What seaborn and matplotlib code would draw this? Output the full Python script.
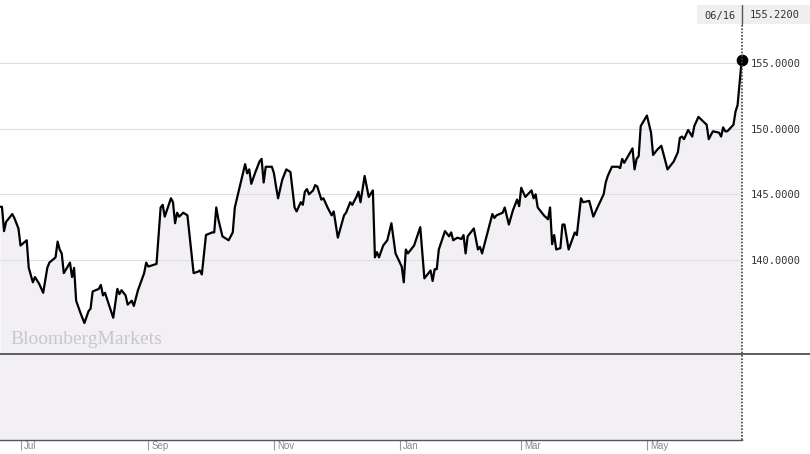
import pandas as pd
import matplotlib.pyplot as plt
import matplotlib.dates as mdates
import matplotlib.transforms as mtransforms
from matplotlib.lines import Line2D
from matplotlib.patches import Rectangle
from matplotlib.ticker import FormatStrFormatter
import seaborn as sns

# Price series (vertices of the line)
dates = [
    '2022-06-21', '2022-06-22', '2022-06-23', '2022-06-24', '2022-06-27', '2022-06-28',
    '2022-06-30', '2022-07-01', '2022-07-04', '2022-07-05', '2022-07-07', '2022-07-08',
    '2022-07-10', '2022-07-12', '2022-07-14', '2022-07-15', '2022-07-18', '2022-07-19',
    '2022-07-20', '2022-07-21', '2022-07-22', '2022-07-25', '2022-07-26', '2022-07-27',
    '2022-07-28', '2022-07-30', '2022-08-01', '2022-08-03', '2022-08-04', '2022-08-05',
    '2022-08-08', '2022-08-09', '2022-08-10', '2022-08-11', '2022-08-15', '2022-08-17',
    '2022-08-18', '2022-08-19', '2022-08-21', '2022-08-22', '2022-08-24', '2022-08-25',
    '2022-08-27', '2022-08-30', '2022-08-31', '2022-09-01', '2022-09-05', '2022-09-07',
    '2022-09-08', '2022-09-09', '2022-09-12', '2022-09-13', '2022-09-14', '2022-09-15',
    '2022-09-16', '2022-09-18', '2022-09-20', '2022-09-23', '2022-09-25', '2022-09-26',
    '2022-09-27', '2022-09-29', '2022-10-02', '2022-10-03', '2022-10-04', '2022-10-05',
    '2022-10-07', '2022-10-09', '2022-10-10', '2022-10-12', '2022-10-13', '2022-10-18',
    '2022-10-19', '2022-10-20', '2022-10-21', '2022-10-23', '2022-10-25', '2022-10-26',
    '2022-10-27', '2022-10-28', '2022-10-31', '2022-11-01', '2022-11-02', '2022-11-03',
    '2022-11-05', '2022-11-07', '2022-11-09', '2022-11-11', '2022-11-12', '2022-11-14',
    '2022-11-15', '2022-11-16', '2022-11-17', '2022-11-18', '2022-11-20', '2022-11-21',
    '2022-11-22', '2022-11-24', '2022-11-25', '2022-11-27', '2022-11-29', '2022-11-30',
    '2022-12-02', '2022-12-05', '2022-12-06', '2022-12-08', '2022-12-09', '2022-12-11',
    '2022-12-12', '2022-12-13', '2022-12-15', '2022-12-17', '2022-12-19', '2022-12-20',
    '2022-12-21', '2022-12-22', '2022-12-24', '2022-12-26', '2022-12-28', '2022-12-30',
    '2023-01-02', '2023-01-03', '2023-01-04', '2023-01-05', '2023-01-08', '2023-01-11',
    '2023-01-13', '2023-01-16', '2023-01-17', '2023-01-18', '2023-01-19', '2023-01-20',
    '2023-01-23', '2023-01-25', '2023-01-26', '2023-01-27', '2023-01-29', '2023-01-31',
    '2023-02-01', '2023-02-02', '2023-02-03', '2023-02-06', '2023-02-08', '2023-02-09',
    '2023-02-10', '2023-02-13', '2023-02-15', '2023-02-16', '2023-02-17', '2023-02-20',
    '2023-02-21', '2023-02-23', '2023-02-25', '2023-02-27', '2023-02-28', '2023-03-01',
    '2023-03-03', '2023-03-06', '2023-03-07', '2023-03-08', '2023-03-09', '2023-03-12',
    '2023-03-14', '2023-03-15', '2023-03-16', '2023-03-17', '2023-03-18', '2023-03-20',
    '2023-03-21', '2023-03-22', '2023-03-24', '2023-03-27', '2023-03-28', '2023-03-30',
    '2023-03-31', '2023-04-03', '2023-04-05', '2023-04-07', '2023-04-10', '2023-04-11',
    '2023-04-12', '2023-04-14', '2023-04-17', '2023-04-18', '2023-04-19', '2023-04-20',
    '2023-04-24', '2023-04-25', '2023-04-26', '2023-04-27', '2023-04-28', '2023-05-01',
    '2023-05-03', '2023-05-04', '2023-05-06', '2023-05-08', '2023-05-11', '2023-05-14',
    '2023-05-16', '2023-05-17', '2023-05-18', '2023-05-19', '2023-05-21', '2023-05-23',
    '2023-05-24', '2023-05-26', '2023-05-30', '2023-05-31', '2023-06-02', '2023-06-05',
    '2023-06-06', '2023-06-07', '2023-06-08', '2023-06-09', '2023-06-12', '2023-06-13',
    '2023-06-14', '2023-06-16',
]
prices = [
    144.05, 144.05, 142.2, 142.9, 143.5, 143.2,
    142.4, 141.1, 141.5, 139.4, 138.3, 138.7,
    138.2, 137.5, 139.4, 139.8, 140.2, 141.4,
    140.8, 140.5, 139.0, 139.8, 138.7, 139.4,
    136.9, 136.0, 135.2, 136.1, 136.3, 137.6,
    137.8, 138.1, 137.3, 137.5, 135.6, 137.8,
    137.4, 137.7, 137.3, 136.6, 136.9, 136.5,
    137.7, 139.0, 139.8, 139.5, 139.7, 144.0,
    144.2, 143.3, 144.7, 144.4, 142.8, 143.6,
    143.3, 143.6, 143.4, 139.0, 139.1, 139.2,
    138.9, 141.9, 142.1, 142.1, 144.0, 143.1,
    141.8, 141.6, 141.5, 142.1, 144.0, 147.3,
    146.6, 146.9, 145.8, 146.7, 147.5, 147.7,
    145.9, 147.1, 147.1, 146.6, 145.6, 144.7,
    146.1, 146.9, 146.7, 144.0, 143.7, 144.4,
    144.2, 145.2, 145.4, 145.0, 145.3, 145.7,
    145.6, 144.6, 144.7, 144.0, 143.4, 143.7,
    141.7, 143.4, 143.6, 144.4, 144.2, 144.8,
    145.2, 144.4, 146.4, 144.8, 145.3, 140.2,
    140.6, 140.2, 141.1, 141.5, 142.8, 140.5,
    139.5, 138.3, 140.8, 140.5, 141.1, 142.5,
    138.6, 139.2, 138.4, 139.3, 139.3, 140.8,
    142.2, 141.8, 142.1, 141.5, 141.7, 141.6,
    141.9, 140.5, 141.8, 142.4, 140.8, 141.0,
    140.5, 142.3, 143.5, 143.2, 143.4, 143.6,
    144.0, 142.7, 143.8, 144.6, 144.1, 145.5,
    144.8, 145.3, 144.7, 145.0, 144.0, 143.4,
    143.1, 144.0, 141.2, 141.9, 140.8, 140.9,
    142.7, 142.7, 140.8, 142.1, 141.9, 144.7,
    144.4, 144.5, 143.3, 144.0, 145.0, 145.9,
    146.4, 147.1, 147.1, 147.0, 147.7, 147.4,
    148.5, 146.9, 147.7, 147.9, 150.2, 151.0,
    149.7, 148.0, 148.4, 148.7, 146.9, 147.5,
    148.2, 149.3, 149.4, 149.2, 149.9, 149.4,
    150.2, 150.9, 150.3, 149.2, 149.8, 149.7,
    149.4, 150.1, 149.8, 149.8, 150.3, 151.3,
    151.8, 155.22,
]
price_ticks = [140, 145, 150, 155]
last_date_label = '06/16'
last_price_label = '155.2200'
watermark = 'BloombergMarkets'

df = pd.DataFrame({'Date': pd.to_datetime(dates), 'Price': prices})

sns.set_style('white')
plt.rcParams['font.family'] = ['Liberation Sans', 'DejaVu Sans']

W, H = 810, 454
fill = '#f2f0f4'
fig = plt.figure(figsize=(W / 100, H / 100), dpi=100)
right = 741.7 / W
ax = fig.add_axes([0, 100 / H, right, 354 / H])
low = fig.add_axes([0, 14 / H, right, 86 / H])

x0 = pd.Timestamp('2022-06-21 01:00')
x1 = df['Date'].iloc[-1]
ymin, ymax = 132.84, 159.8

# main price panel
ax.fill_between(df['Date'], df['Price'], ymin, color=fill, lw=0)
sns.lineplot(data=df, x='Date', y='Price', ax=ax, color='black', lw=1.6,
             estimator=None, clip_on=False)
ax.scatter([x1], [df['Price'].iloc[-1]], s=55, color='black', zorder=5, clip_on=False)
ax.set_xlim(x0, x1)
ax.set_ylim(ymin, ymax)
ax.set_axisbelow('line')
ax.grid(axis='y', color='#dedede', lw=0.8)
ax.set_yticks(price_ticks)
ax.yaxis.tick_right()
ax.yaxis.set_major_formatter(FormatStrFormatter('%.4f'))
ax.tick_params(axis='y', length=0, pad=6.5, labelsize=7.5, labelcolor='#333333',
               labelfontfamily='DejaVu Sans Mono')
ax.set_xticks([])
ax.set_xlabel('')
ax.set_ylabel('')
for s in ax.spines.values():
    s.set_visible(False)
ax.text(10 / 741.7, 14 / 354, watermark, transform=ax.transAxes, ha='left', va='center',
        fontfamily='Liberation Serif', fontsize=14, color='#c8c8c8')

# empty lower panel with month ticks
low.set_facecolor(fill)
low.set_xlim(x0, x1)
low.set_ylim(0, 1)
low.set_yticks([])
low.xaxis.set_major_locator(mdates.MonthLocator(bymonth=[1, 3, 5, 7, 9, 11]))
low.xaxis.set_major_formatter(mdates.DateFormatter('%b'))
low.tick_params(axis='x', direction='out', bottom=True, length=7, width=0.8, color='#999999',
                pad=-6.5, labelsize=7, labelcolor='#888888')
offset = mtransforms.ScaledTranslation(3 / 100, 0, fig.dpi_scale_trans)
for lab in low.get_xticklabels():
    lab.set_horizontalalignment('left')
    lab.set_transform(lab.get_transform() + offset)
for side in ['top', 'left', 'right']:
    low.spines[side].set_visible(False)
low.spines['bottom'].set_color('#555555')
low.spines['bottom'].set_linewidth(1)

# separator, cursor line and last-value box
fig.add_artist(Line2D([0, 1], [100 / H, 100 / H], transform=fig.transFigure,
                      color='#444444', lw=1.2))
fig.add_artist(Line2D([right, right], [14 / H, (H - 24) / H], transform=fig.transFigure,
                      color='#444444', lw=1.2, linestyle=(0, (1, 1))))
fig.add_artist(Rectangle((697 / W, (H - 24) / H), (W - 697) / W, 19 / H,
                         transform=fig.transFigure, color='#efeef1', lw=0))
fig.add_artist(Line2D([right, right], [(H - 24) / H, (H - 5) / H], transform=fig.transFigure,
                      color='#555555', lw=1))
fig.text(720 / W, (H - 15.5) / H, last_date_label, ha='center', va='center',
         fontfamily='DejaVu Sans Mono', fontsize=7.5, color='#333333')
fig.text(775 / W, (H - 15.5) / H, last_price_label, ha='center', va='center',
         fontfamily='DejaVu Sans Mono', fontsize=7.5, color='#333333')

fig.savefig('out.png', dpi=100, facecolor='white')
